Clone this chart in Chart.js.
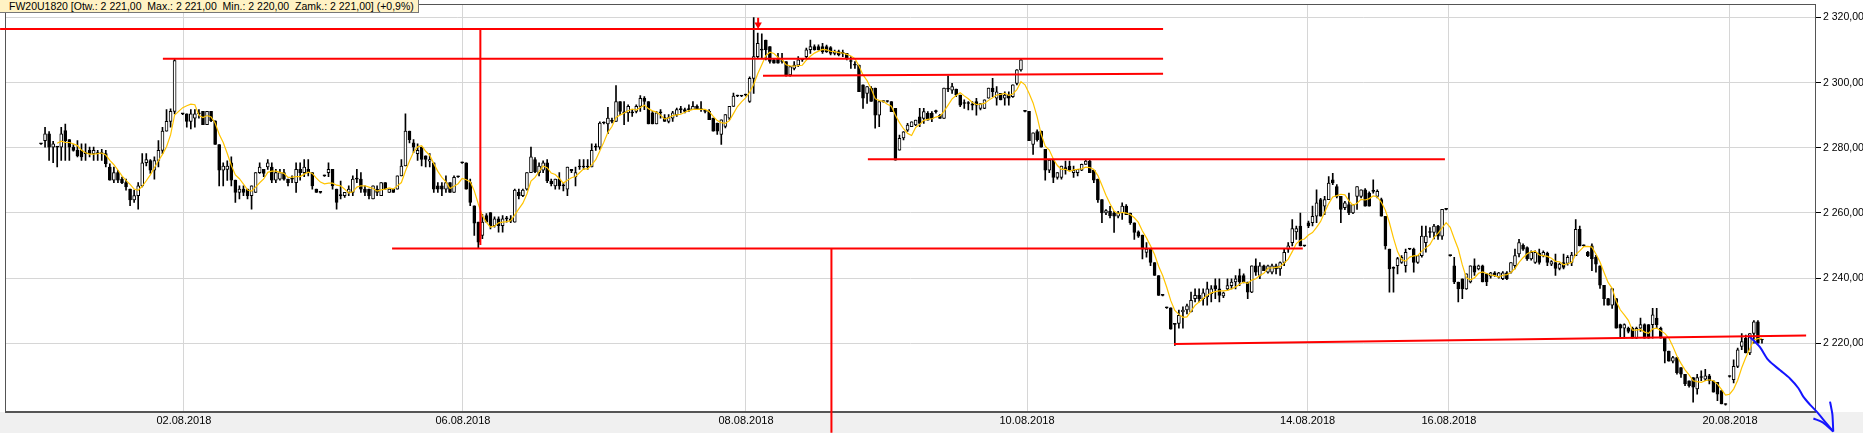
<!DOCTYPE html>
<html>
<head>
<meta charset="utf-8">
<title>FW20U1820</title>
<script src="https://cdn.jsdelivr.net/npm/chart.js@4.4.0/dist/chart.umd.min.js"></script>
<style>
  html, body { margin: 0; padding: 0; background: #fff; }
  #wrap { position: relative; width: 1863px; height: 433px; }
  #info {
    position: absolute; left: 0; top: 0; height: 12px; line-height: 12px;
    padding: 0 4px 0 9px; background: #fff2c4;
    border-right: 1px solid #777; border-bottom: 1px solid #777;
    font: 10.5px 'Liberation Sans', Arial, sans-serif; color: #000; white-space: pre;
  }
</style>
</head>
<body>
<div id="wrap">
  <canvas id="chart" width="1863" height="433"></canvas>
  <div id="info">FW20U1820 [Otw.: 2 221,00  Max.: 2 221,00  Min.: 2 220,00  Zamk.: 2 221,00] (+0,9%)</div>
</div>
<script>
// 15-minute candles, one slot per bar (slot 34 is an empty slot in the feed)
const opens = [
  2281.2, 2282.2, 2284.3, 2280.2, 2280.2, 2280.2, 2285.3, 2282.5, 2280.2, 2279.2,
  2279.2, 2278.2, 2279.2, 2278.2, 2278.2, 2278.2, 2278.2, 2274.1, 2270.1, 2272.4,
  2270.4, 2269.3, 2267.3, 2264.0, 2265.3, 2268.3, 2275.4, 2276.1, 2273.1, 2276.1,
  2279.2, 2285.1, 2288.1, 2291.2, null, 2290.4, 2290.4, 2288.1, 2289.1, 2290.4,
  2291.2, 2287.1, 2291.2, 2288.3, 2281.0, 2273.1, 2273.4, 2275.4, 2270.1, 2266.3,
  2267.3, 2267.3, 2265.3, 2266.3, 2272.4, 2273.4, 2274.1, 2274.1, 2270.1, 2270.4,
  2272.4, 2270.4, 2270.4, 2269.3, 2273.4, 2272.4, 2273.4, 2272.4, 2267.3, 2266.3,
  2271.4, 2272.4, 2273.4, 2267.3, 2265.3, 2265.3, 2266.3, 2266.3, 2270.4, 2270.4,
  2267.3, 2267.3, 2264.3, 2267.3, 2265.3, 2269.3, 2266.3, 2267.3, 2267.3, 2271.4,
  2274.4, 2285.1, 2281.5, 2278.2, 2280.2, 2277.5, 2275.9, 2275.4, 2268.3, 2268.3,
  2267.3, 2269.3, 2266.3, 2271.1, 2275.4, 2275.4, 2269.3, 2262.2, 2257.2, 2253.1,
  2259.2, 2260.1, 2256.1, 2258.2, 2256.1, 2258.2, 2258.2, 2257.2, 2266.3, 2265.3,
  2267.3, 2272.4, 2276.4, 2272.4, 2273.1, 2275.4, 2269.8, 2268.3, 2270.4, 2268.3,
  2267.3, 2273.4, 2271.1, 2274.1, 2274.1, 2274.1, 2274.1, 2280.2, 2280.2, 2287.6,
  2287.3, 2288.1, 2288.1, 2294.2, 2290.7, 2290.7, 2290.7, 2291.2, 2292.7, 2295.2,
  2294.2, 2290.7, 2287.3, 2290.7, 2289.3, 2288.1, 2289.1, 2290.2, 2291.7, 2291.7,
  2291.7, 2291.7, 2292.7, 2291.7, 2291.2, 2291.2, 2289.1, 2287.6, 2284.1, 2286.6,
  2289.1, 2292.7, 2295.9, 2295.9, 2296.2, 2294.2, 2301.3, 2308.0, 2310.0, 2313.1,
  2311.1, 2307.0, 2307.5, 2306.5, 2306.5, 2302.4, 2304.4, 2305.4, 2307.0, 2308.0,
  2310.1, 2311.1, 2311.1, 2311.1, 2311.1, 2310.8, 2309.0, 2309.5, 2309.0, 2309.0,
  2306.5, 2305.4, 2305.4, 2299.3, 2296.7, 2298.3, 2298.3, 2290.0, 2294.2, 2294.2,
  2294.2, 2292.1, 2279.3, 2283.0, 2285.4, 2286.5, 2287.0, 2289.5, 2289.0, 2290.6,
  2290.6, 2291.1, 2290.0, 2289.0, 2298.0, 2297.7, 2298.0, 2296.2, 2293.6, 2293.6,
  2293.1, 2294.2, 2292.1, 2292.1, 2295.2, 2298.3, 2295.2, 2296.7, 2295.2, 2296.2,
  2295.7, 2299.8, 2303.9, 2291.2, 2291.2, 2281.0, 2285.0, 2285.1, 2279.5, 2273.1,
  2276.2, 2270.9, 2270.9, 2273.9, 2274.4, 2272.4, 2272.4, 2273.1, 2274.9, 2275.9,
  2273.1, 2270.4, 2264.1, 2260.0, 2260.5, 2260.0, 2259.0, 2260.0, 2262.1, 2260.0,
  2257.0, 2254.2, 2253.2, 2247.9, 2249.1, 2244.8, 2240.8, 2234.7, 2230.9, 2230.9,
  2225.8, 2226.1, 2229.6, 2230.2, 2229.6, 2233.7, 2234.7, 2233.7, 2234.2, 2235.2,
  2237.7, 2236.7, 2234.5, 2236.7, 2237.7, 2238.8, 2240.8, 2240.8, 2238.8, 2235.7,
  2243.8, 2240.8, 2243.8, 2241.8, 2241.8, 2243.8, 2242.8, 2244.8, 2248.9, 2250.9,
  2254.2, 2256.0, 2249.9, 2257.0, 2257.0, 2259.0, 2264.1, 2262.1, 2264.1, 2270.2,
  2268.1, 2265.1, 2261.6, 2262.6, 2260.0, 2265.1, 2265.1, 2267.1, 2266.1, 2266.6,
  2265.1, 2264.1, 2259.0, 2248.9, 2243.0, 2243.8, 2244.8, 2243.8, 2248.9, 2248.9,
  2244.8, 2246.9, 2250.9, 2254.0, 2254.0, 2256.0, 2252.9, 2261.1, 2246.9, 2243.8,
  2238.8, 2239.8, 2236.7, 2238.8, 2243.8, 2242.8, 2243.8, 2241.3, 2240.6, 2241.6,
  2240.3, 2239.8, 2241.6, 2241.8, 2243.8, 2247.4, 2250.1, 2249.4, 2245.9, 2244.8,
  2247.7, 2246.9, 2247.6, 2244.3, 2244.8, 2243.0, 2244.8, 2244.5, 2244.8, 2246.9,
  2255.0, 2249.9, 2247.9, 2249.9, 2246.4, 2243.8, 2237.8, 2233.7, 2231.7, 2233.7,
  2225.7, 2224.6, 2224.6, 2224.6, 2221.6, 2224.6, 2225.7, 2225.7, 2225.7, 2227.7,
  2224.6, 2221.6, 2217.6, 2214.5, 2215.6, 2212.5, 2210.5, 2208.5, 2209.5, 2206.0,
  2209.5, 2209.0, 2210.0, 2208.5, 2208.0, 2205.5, 2201.2, 2209.8, 2208.8, 2212.9,
  2219.0, 2221.5, 2217.0, 2223.0, 2226.6, 2221.0
];
const highs = [
  2281.4, 2286.3, 2285.0, 2282.0, 2280.4, 2286.3, 2287.3, 2282.5, 2281.0, 2282.2,
  2281.2, 2281.2, 2280.2, 2280.2, 2279.2, 2279.5, 2279.2, 2275.1, 2274.1, 2273.1,
  2271.0, 2270.4, 2267.3, 2267.0, 2269.3, 2278.2, 2278.2, 2276.4, 2277.2, 2282.2,
  2286.3, 2291.7, 2292.0, 2307.3, null, 2290.6, 2290.4, 2291.7, 2291.7, 2291.7,
  2291.2, 2291.2, 2291.2, 2288.3, 2281.0, 2275.4, 2276.0, 2277.2, 2270.1, 2268.3,
  2268.3, 2267.3, 2268.3, 2272.4, 2275.4, 2273.4, 2276.4, 2275.4, 2273.4, 2273.4,
  2273.4, 2270.4, 2271.4, 2275.4, 2275.4, 2276.4, 2276.4, 2272.4, 2267.3, 2266.5,
  2271.6, 2275.4, 2273.4, 2267.3, 2269.8, 2266.3, 2268.3, 2271.4, 2273.4, 2272.4,
  2268.3, 2267.3, 2268.3, 2268.3, 2269.3, 2269.3, 2267.3, 2267.3, 2271.4, 2276.4,
  2290.4, 2285.1, 2282.5, 2281.2, 2280.2, 2277.5, 2278.2, 2275.4, 2269.3, 2269.3,
  2271.4, 2269.3, 2271.4, 2271.3, 2275.6, 2275.4, 2270.4, 2262.2, 2257.2, 2259.6,
  2259.8, 2260.1, 2258.8, 2258.8, 2259.2, 2259.0, 2259.2, 2267.3, 2267.3, 2267.3,
  2272.4, 2280.2, 2277.0, 2275.4, 2276.0, 2276.4, 2270.4, 2270.4, 2272.4, 2269.3,
  2274.1, 2273.4, 2274.1, 2276.4, 2276.4, 2276.4, 2281.2, 2281.2, 2288.0, 2288.0,
  2292.4, 2289.1, 2299.1, 2294.2, 2294.2, 2293.2, 2291.7, 2293.2, 2296.0, 2295.7,
  2294.2, 2291.2, 2291.2, 2291.7, 2290.2, 2290.2, 2291.2, 2292.2, 2292.7, 2292.2,
  2293.2, 2294.2, 2293.2, 2294.2, 2291.7, 2291.7, 2289.1, 2287.6, 2288.6, 2290.2,
  2292.7, 2296.8, 2296.2, 2296.1, 2296.5, 2301.8, 2320.0, 2315.2, 2315.0, 2313.1,
  2311.1, 2307.5, 2309.0, 2309.0, 2306.5, 2305.0, 2306.5, 2308.0, 2307.5, 2310.6,
  2313.1, 2311.6, 2311.6, 2312.1, 2311.5, 2311.1, 2310.0, 2310.0, 2310.0, 2309.0,
  2308.0, 2306.5, 2305.4, 2299.3, 2298.8, 2298.8, 2298.3, 2294.2, 2294.4, 2294.4,
  2294.2, 2292.1, 2283.9, 2285.0, 2287.5, 2288.0, 2288.5, 2292.1, 2292.1, 2291.1,
  2291.1, 2291.6, 2290.3, 2298.3, 2302.1, 2299.8, 2298.0, 2296.2, 2294.7, 2294.2,
  2294.2, 2295.2, 2293.6, 2294.7, 2298.3, 2301.3, 2298.8, 2296.7, 2297.2, 2297.2,
  2299.3, 2304.0, 2307.3, 2291.4, 2291.2, 2284.6, 2285.5, 2285.1, 2279.5, 2276.2,
  2276.2, 2272.4, 2274.4, 2275.9, 2275.9, 2274.4, 2273.4, 2275.0, 2276.4, 2276.4,
  2273.1, 2270.4, 2264.1, 2261.0, 2262.0, 2260.5, 2260.5, 2263.1, 2262.6, 2260.0,
  2257.0, 2254.5, 2253.2, 2250.9, 2249.1, 2244.8, 2240.8, 2234.9, 2231.1, 2230.9,
  2226.0, 2230.2, 2231.2, 2232.0, 2235.7, 2236.7, 2236.7, 2236.7, 2238.8, 2237.7,
  2239.8, 2239.8, 2235.7, 2239.8, 2239.8, 2240.8, 2242.8, 2241.3, 2238.8, 2243.8,
  2245.9, 2244.8, 2244.0, 2244.0, 2244.3, 2244.3, 2245.0, 2248.9, 2250.9, 2258.0,
  2256.0, 2260.0, 2250.1, 2257.5, 2262.1, 2267.1, 2264.5, 2265.1, 2271.2, 2272.2,
  2268.7, 2265.1, 2263.6, 2266.1, 2262.6, 2268.1, 2267.1, 2267.5, 2266.5, 2270.2,
  2267.1, 2264.6, 2259.0, 2248.9, 2243.5, 2246.4, 2246.9, 2248.9, 2249.1, 2249.2,
  2247.0, 2256.0, 2256.0, 2255.5, 2256.5, 2256.2, 2261.1, 2261.3, 2247.1, 2246.4,
  2238.8, 2239.8, 2241.3, 2243.8, 2245.9, 2244.0, 2244.0, 2241.5, 2241.8, 2242.0,
  2241.8, 2242.0, 2242.0, 2244.8, 2248.9, 2251.9, 2250.5, 2249.6, 2248.4, 2248.4,
  2248.9, 2248.4, 2248.0, 2245.4, 2247.4, 2244.6, 2247.4, 2246.9, 2247.9, 2258.0,
  2256.0, 2250.2, 2248.2, 2250.5, 2247.0, 2243.8, 2237.8, 2233.8, 2236.8, 2233.7,
  2225.9, 2226.0, 2225.0, 2225.0, 2225.0, 2227.7, 2226.0, 2225.7, 2230.7, 2230.7,
  2225.0, 2221.6, 2217.6, 2216.0, 2215.6, 2212.5, 2210.5, 2208.5, 2209.5, 2210.5,
  2211.5, 2212.0, 2210.5, 2208.5, 2208.0, 2205.5, 2201.4, 2210.0, 2214.9, 2218.5,
  2223.0, 2222.5, 2223.0, 2227.0, 2227.0, 2221.0
];
const lows = [
  2281.0, 2280.2, 2276.1, 2275.4, 2274.1, 2276.1, 2276.1, 2276.1, 2279.0, 2277.2,
  2276.1, 2276.1, 2277.2, 2276.1, 2276.1, 2276.1, 2274.1, 2270.1, 2269.3, 2269.3,
  2269.0, 2267.0, 2262.2, 2263.2, 2261.2, 2268.0, 2274.4, 2272.1, 2270.4, 2274.1,
  2278.2, 2285.1, 2286.3, 2290.4, null, 2290.2, 2286.3, 2285.8, 2286.3, 2289.1,
  2287.1, 2287.1, 2288.0, 2281.0, 2268.3, 2268.3, 2270.0, 2268.3, 2263.2, 2264.3,
  2265.3, 2264.3, 2261.2, 2266.3, 2272.1, 2271.1, 2273.4, 2269.3, 2269.3, 2270.1,
  2270.1, 2268.3, 2269.3, 2266.3, 2270.1, 2271.1, 2271.4, 2267.3, 2266.3, 2266.1,
  2271.2, 2271.1, 2267.3, 2261.2, 2264.3, 2264.8, 2265.3, 2265.3, 2269.3, 2266.3,
  2265.3, 2264.3, 2264.3, 2265.3, 2265.3, 2267.3, 2266.3, 2266.3, 2267.3, 2271.4,
  2274.4, 2281.5, 2278.5, 2276.1, 2274.4, 2274.1, 2274.1, 2266.3, 2266.3, 2265.3,
  2266.3, 2266.3, 2266.3, 2270.9, 2275.2, 2267.3, 2262.2, 2253.1, 2249.0, 2252.1,
  2257.2, 2255.1, 2255.6, 2254.1, 2254.1, 2257.2, 2257.0, 2257.2, 2264.3, 2265.0,
  2267.0, 2272.4, 2272.4, 2271.4, 2272.4, 2269.3, 2268.3, 2267.3, 2267.3, 2266.8,
  2265.3, 2272.4, 2268.3, 2273.4, 2273.4, 2273.4, 2274.1, 2279.2, 2279.5, 2287.3,
  2284.3, 2287.6, 2288.1, 2290.2, 2287.1, 2288.1, 2289.6, 2290.7, 2291.2, 2291.7,
  2287.3, 2287.3, 2287.3, 2289.1, 2288.1, 2287.6, 2288.1, 2289.6, 2290.7, 2290.7,
  2291.2, 2291.7, 2291.7, 2291.2, 2290.7, 2288.6, 2285.1, 2284.1, 2281.0, 2286.1,
  2288.6, 2292.7, 2295.7, 2295.7, 2295.9, 2293.9, 2296.7, 2307.5, 2307.5, 2307.0,
  2306.0, 2306.0, 2306.0, 2306.0, 2302.0, 2302.0, 2303.9, 2304.9, 2306.5, 2307.5,
  2309.0, 2310.0, 2310.0, 2309.0, 2309.3, 2308.5, 2308.5, 2308.2, 2308.0, 2307.0,
  2304.4, 2304.4, 2297.2, 2292.1, 2293.6, 2294.2, 2286.0, 2286.5, 2294.0, 2294.0,
  2291.1, 2276.2, 2279.3, 2282.4, 2285.0, 2286.5, 2286.8, 2286.5, 2287.5, 2288.5,
  2288.0, 2290.6, 2289.0, 2289.0, 2297.2, 2296.7, 2295.7, 2292.6, 2292.1, 2291.6,
  2291.6, 2290.0, 2291.6, 2292.0, 2295.2, 2295.7, 2293.1, 2294.7, 2293.1, 2293.1,
  2295.5, 2299.3, 2303.5, 2291.0, 2282.2, 2278.0, 2282.0, 2280.2, 2270.1, 2272.4,
  2269.3, 2270.4, 2270.4, 2271.9, 2273.1, 2270.9, 2271.4, 2273.0, 2274.9, 2272.4,
  2269.3, 2263.2, 2257.0, 2259.5, 2258.5, 2254.0, 2258.5, 2258.0, 2259.5, 2256.5,
  2251.9, 2252.5, 2245.9, 2246.4, 2243.8, 2240.8, 2234.7, 2234.5, 2230.7, 2224.3,
  2219.3, 2224.6, 2224.6, 2229.0, 2229.6, 2232.7, 2232.7, 2231.7, 2231.7, 2232.7,
  2233.7, 2232.7, 2234.0, 2236.2, 2236.7, 2236.7, 2237.7, 2238.5, 2233.7, 2235.5,
  2240.8, 2239.8, 2242.3, 2241.5, 2241.3, 2241.3, 2240.8, 2243.8, 2247.9, 2249.9,
  2251.9, 2249.9, 2249.7, 2255.5, 2256.0, 2257.0, 2259.0, 2259.5, 2264.1, 2268.7,
  2264.6, 2257.0, 2261.0, 2259.5, 2259.8, 2261.1, 2264.6, 2262.1, 2262.1, 2266.1,
  2264.6, 2259.0, 2248.9, 2235.7, 2235.7, 2241.3, 2244.5, 2241.8, 2248.7, 2241.8,
  2244.5, 2246.4, 2248.0, 2252.5, 2252.0, 2251.9, 2251.9, 2260.9, 2246.7, 2238.3,
  2232.7, 2233.7, 2236.5, 2238.5, 2240.8, 2242.5, 2238.8, 2237.7, 2240.0, 2240.5,
  2240.0, 2239.5, 2239.5, 2241.5, 2242.8, 2246.5, 2248.5, 2245.4, 2245.5, 2244.5,
  2244.3, 2246.5, 2243.8, 2243.8, 2240.8, 2242.5, 2242.8, 2244.0, 2243.8, 2246.9,
  2249.9, 2249.7, 2246.6, 2242.3, 2241.8, 2236.8, 2231.7, 2231.7, 2230.7, 2224.6,
  2221.6, 2221.6, 2223.2, 2221.6, 2221.4, 2223.6, 2221.6, 2221.6, 2221.6, 2224.6,
  2221.6, 2214.0, 2214.5, 2214.0, 2210.5, 2209.5, 2207.0, 2206.5, 2201.9, 2204.4,
  2208.5, 2208.5, 2207.5, 2205.0, 2202.4, 2201.4, 2201.0, 2209.6, 2207.8, 2212.5,
  2218.0, 2217.0, 2216.5, 2220.0, 2220.0, 2220.0
];
const closes = [
  2281.2, 2284.3, 2280.2, 2281.2, 2280.2, 2284.3, 2282.2, 2280.2, 2279.2, 2277.5,
  2277.2, 2278.2, 2278.2, 2279.2, 2278.2, 2278.2, 2275.1, 2270.1, 2272.4, 2270.1,
  2269.3, 2268.0, 2264.0, 2265.3, 2268.3, 2275.4, 2276.4, 2273.1, 2276.1, 2279.2,
  2285.1, 2288.1, 2291.2, 2306.8, null, 2290.4, 2288.1, 2290.4, 2290.4, 2290.4,
  2287.1, 2291.2, 2288.3, 2281.0, 2273.1, 2274.4, 2274.4, 2270.1, 2266.3, 2267.3,
  2266.3, 2265.3, 2268.3, 2272.4, 2274.1, 2272.1, 2275.4, 2270.1, 2272.4, 2272.4,
  2270.4, 2269.3, 2270.4, 2273.4, 2272.4, 2274.1, 2272.4, 2268.3, 2266.3, 2266.3,
  2271.4, 2273.4, 2268.3, 2263.2, 2265.3, 2266.3, 2267.3, 2270.4, 2270.4, 2267.3,
  2266.3, 2265.3, 2268.3, 2266.3, 2269.3, 2267.3, 2267.3, 2266.3, 2271.4, 2274.4,
  2285.1, 2282.5, 2280.2, 2279.2, 2276.4, 2276.4, 2276.4, 2267.3, 2267.3, 2267.3,
  2269.3, 2266.3, 2270.9, 2271.1, 2275.4, 2267.3, 2263.2, 2256.9, 2251.0, 2257.2,
  2257.2, 2256.1, 2258.2, 2256.1, 2258.2, 2258.2, 2257.5, 2267.0, 2265.3, 2267.0,
  2272.4, 2277.2, 2272.6, 2274.4, 2275.4, 2269.8, 2269.0, 2270.4, 2268.3, 2268.3,
  2274.1, 2272.9, 2272.4, 2274.1, 2274.1, 2274.1, 2279.2, 2280.2, 2287.6, 2287.6,
  2289.1, 2288.1, 2294.2, 2291.2, 2290.7, 2292.7, 2290.7, 2292.7, 2295.2, 2294.2,
  2287.3, 2287.3, 2290.7, 2290.7, 2288.1, 2289.3, 2290.7, 2291.7, 2291.7, 2291.2,
  2291.7, 2292.7, 2291.7, 2291.7, 2291.2, 2288.6, 2285.1, 2285.1, 2288.6, 2290.2,
  2292.7, 2295.9, 2295.9, 2295.9, 2296.2, 2301.3, 2308.0, 2312.1, 2310.0, 2310.1,
  2306.5, 2306.0, 2306.0, 2306.5, 2302.4, 2304.9, 2305.4, 2307.0, 2307.0, 2310.1,
  2311.1, 2310.1, 2310.1, 2309.5, 2309.5, 2309.0, 2309.5, 2308.5, 2309.0, 2307.5,
  2306.5, 2305.4, 2297.2, 2295.2, 2298.8, 2294.2, 2290.0, 2294.2, 2294.2, 2294.2,
  2291.1, 2276.2, 2282.9, 2284.9, 2287.0, 2288.0, 2288.5, 2287.5, 2291.1, 2288.5,
  2289.0, 2291.1, 2289.0, 2298.3, 2298.0, 2298.8, 2296.2, 2293.1, 2293.6, 2293.6,
  2293.1, 2293.1, 2293.6, 2294.7, 2298.3, 2297.2, 2297.2, 2294.7, 2296.2, 2295.2,
  2299.3, 2303.9, 2307.0, 2291.2, 2282.2, 2284.6, 2282.5, 2280.2, 2273.1, 2276.2,
  2270.9, 2272.4, 2274.4, 2273.1, 2273.1, 2273.1, 2273.4, 2274.9, 2275.9, 2272.4,
  2270.1, 2264.0, 2260.0, 2260.7, 2259.2, 2259.0, 2260.0, 2262.1, 2259.5, 2257.0,
  2254.0, 2252.9, 2248.9, 2248.9, 2244.8, 2240.8, 2234.7, 2234.7, 2230.9, 2224.3,
  2225.8, 2228.6, 2230.2, 2231.5, 2233.2, 2234.7, 2233.7, 2235.5, 2236.7, 2236.7,
  2236.7, 2234.7, 2235.5, 2237.7, 2238.8, 2239.8, 2238.8, 2238.8, 2235.7, 2243.8,
  2241.8, 2243.8, 2242.3, 2243.8, 2243.8, 2242.8, 2244.8, 2247.9, 2249.9, 2255.2,
  2255.2, 2249.9, 2249.9, 2256.0, 2259.0, 2263.1, 2259.0, 2264.1, 2269.2, 2269.2,
  2265.1, 2261.1, 2263.1, 2260.0, 2262.6, 2268.1, 2267.1, 2262.1, 2262.1, 2266.6,
  2266.6, 2259.0, 2249.9, 2242.8, 2243.0, 2246.0, 2246.4, 2247.9, 2248.9, 2244.8,
  2246.9, 2252.9, 2252.9, 2254.0, 2256.0, 2252.9, 2261.1, 2261.1, 2246.9, 2238.8,
  2236.7, 2236.7, 2241.3, 2243.8, 2241.8, 2243.8, 2238.8, 2238.8, 2241.6, 2240.8,
  2241.6, 2241.6, 2239.8, 2244.8, 2246.9, 2250.9, 2248.9, 2245.9, 2247.9, 2247.9,
  2244.8, 2247.9, 2244.8, 2245.1, 2243.0, 2244.3, 2243.3, 2246.4, 2247.1, 2255.0,
  2249.9, 2249.9, 2246.9, 2245.9, 2244.3, 2237.8, 2233.7, 2231.7, 2236.8, 2224.6,
  2224.6, 2225.7, 2223.6, 2221.6, 2224.6, 2225.7, 2221.6, 2221.6, 2228.7, 2225.7,
  2221.6, 2217.6, 2214.5, 2215.6, 2211.0, 2210.5, 2207.5, 2207.0, 2206.5, 2209.5,
  2209.5, 2210.0, 2208.5, 2205.0, 2204.4, 2201.4, 2201.2, 2209.8, 2212.9, 2218.0,
  2220.5, 2217.0, 2223.0, 2226.6, 2220.0, 2221.0
];

// date gridlines (slot of the first bar of the day) and price ticks
const dayTicks = [35.3, 104.2, 174.1, 243.5, 312.8, 347.7, 417.1];
const dayLabels = ['02.08.2018', '06.08.2018', '08.08.2018', '10.08.2018', '14.08.2018', '16.08.2018', '20.08.2018'];
const priceTicks = [2220, 2240, 2260, 2280, 2300, 2320];

// hand-drawn support/resistance lines, [slot, price] pairs
const redLines = [
  [[-10.1, 2316.5], [277.1, 2316.5]],
  [[30.1, 2307.3], [277.1, 2307.3]],
  [[178.3, 2302.1], [277.1, 2302.7]],
  [[204.2, 2276.5], [346.7, 2276.5]],
  [[86.7, 2249.1], [311.6, 2249.1]],
  [[108.5, 2316.5], [108.5, 2250.2]],
  [[195.2, 2249.1], [195.2, 2192.5]],
  [[279.8, 2219.8], [435.9, 2222.4]]
];
const redArrowStem = [[177.1, 2319.9], [177.1, 2318.3]];
const redArrowHead = [177.1, 2317.8];

// hand-drawn blue forecast arrow, listed from the tip backwards
const blueStroke = [
  [442.6, 2192.9], [440.6, 2195.9], [438.5, 2199.0], [436.9, 2201.1], [435.2, 2203.6],
  [434.0, 2206.2], [431.9, 2209.2], [429.5, 2211.7], [426.6, 2214.8], [424.5, 2218.8],
  [422.9, 2220.9], [421.6, 2222.4]
];
const blueHeadLeft = [[442.6, 2192.9], [440.0, 2195.7], [437.7, 2196.9]];
const blueHeadRight = [[442.6, 2192.9], [442.4, 2198.0], [442.1, 2200.2], [441.8, 2202.1]];

const maPeriod = 5;

// ---- build datasets ----
const bodies = [], wicks = [], bodyColors = [], ma = [];
const win = [];
for (let i = 0; i < opens.length; i++) {
  if (opens[i] === null) continue;
  bodies.push({ x: i, y: [opens[i], closes[i]] });
  wicks.push({ x: i, y: [lows[i], highs[i]] });
  bodyColors.push(closes[i] > opens[i] ? '#ffffff' : '#000000');
  win.push(closes[i]);
  if (win.length > maPeriod) win.shift();
  if (win.length === maPeriod) {
    ma.push({ x: i, y: win.reduce((a, b) => a + b, 0) / maPeriod });
  }
}

const toXY = pts => pts.map(p => ({ x: p[0], y: p[1] }));
const annot = (pts, color, width, extra) => Object.assign({
  type: 'line', data: toXY(pts), borderColor: color, borderWidth: width,
  pointRadius: 0, clip: false, order: 0, tension: 0
}, extra || {});

const datasets = [
  {
    type: 'bar', data: bodies, backgroundColor: bodyColors, borderColor: '#000',
    borderWidth: 1, borderSkipped: false, barThickness: 3, minBarLength: 1,
    grouped: false, order: 2
  },
  {
    type: 'bar', data: wicks, backgroundColor: '#000', borderWidth: 0,
    barThickness: 1, grouped: false, order: 3
  },
  {
    type: 'line', data: ma, borderColor: '#ffc400', borderWidth: 1.2,
    pointRadius: 0, tension: 0, order: 1
  }
];
redLines.forEach(l => datasets.push(annot(l, '#ff0000', 2)));
datasets.push(annot(redArrowStem, '#ff0000', 2));
datasets.push(annot([redArrowHead], '#ff0000', 0, {
  showLine: false, pointRadius: 4.3, pointStyle: 'triangle', pointRotation: 180,
  pointBackgroundColor: '#ff0000', pointBorderWidth: 0
}));
datasets.push(annot(blueStroke, '#1414ff', 2, { tension: 0.3 }));
datasets.push(annot(blueHeadLeft, '#1414ff', 2, { tension: 0.3 }));
datasets.push(annot(blueHeadRight, '#1414ff', 2, { tension: 0.3 }));

const frame = {
  id: 'frame',
  beforeDraw(chart) {
    const { ctx, width, height, chartArea: a } = chart;
    ctx.save();
    ctx.fillStyle = '#ffffff';
    ctx.fillRect(0, 0, width, height);
    ctx.fillStyle = '#f0f0f0';
    ctx.fillRect(0, a.bottom, width, height - a.bottom);
    ctx.restore();
  },
  beforeDatasetsDraw(chart) {
    const { ctx, chartArea: a } = chart;
    ctx.save();
    ctx.strokeStyle = '#555';
    ctx.lineWidth = 1;
    ctx.strokeRect(Math.round(a.left) + 0.5, Math.round(a.top) + 0.5,
      Math.round(a.right - a.left) - 1, Math.round(a.bottom - a.top) - 1);
    ctx.lineWidth = 2;
    ctx.beginPath();
    ctx.moveTo(a.left, Math.round(a.bottom));
    ctx.lineTo(a.right, Math.round(a.bottom));
    ctx.stroke();
    ctx.restore();
  }
};

const priceLabel = v => v.toFixed(2).replace('.', ',').replace(/^(\d)(\d{3})/, '$1 $2');

new Chart(document.getElementById('chart'), {
  type: 'bar',
  data: { datasets },
  plugins: [frame],
  options: {
    responsive: false,
    animation: false,
    events: [],
    layout: { padding: { left: 5, top: 1, right: 0, bottom: 0 } },
    plugins: { legend: { display: false }, tooltip: { enabled: false } },
    scales: {
      x: {
        type: 'linear', min: -8.89, max: 438.34, offset: false,
        afterBuildTicks: s => { s.ticks = dayTicks.map(v => ({ value: v })); },
        afterFit: s => { s.height = 21; s.paddingLeft = 0; s.paddingRight = 0; },
        grid: { color: '#d6d6d6', drawTicks: false, offset: false },
        border: { display: false },
        ticks: {
          autoSkip: false, maxRotation: 0, padding: 2, color: '#000',
          font: { family: "'Liberation Sans Narrow', 'Liberation Sans', Arial, sans-serif", size: 11 },
          callback: (v, i) => dayLabels[i]
        }
      },
      y: {
        type: 'linear', position: 'right', min: 2198.9, max: 2324.05, beginAtZero: false,
        afterBuildTicks: s => { s.ticks = priceTicks.map(v => ({ value: v })); },
        afterFit: s => { s.width = 47; s.paddingTop = 0; s.paddingBottom = 0; },
        grid: { color: '#d6d6d6', drawTicks: true, tickLength: 5, tickColor: '#000' },
        border: { display: false },
        ticks: {
          padding: 2, color: '#000',
          font: { family: "'Liberation Sans', Arial, sans-serif", size: 10.5 },
          callback: v => priceLabel(v)
        }
      }
    }
  }
});
</script>
</body>
</html>
